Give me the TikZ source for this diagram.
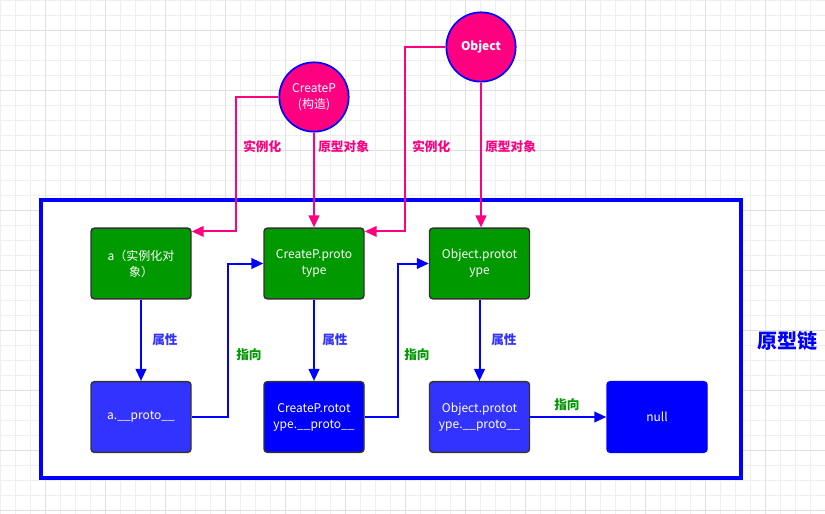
\documentclass[tikz,border=0pt]{standalone}
\usepackage{fontspec}
\setmainfont{Noto Sans CJK SC}
\usetikzlibrary{arrows.meta}
\definecolor{gridminor}{HTML}{EFEFEF}
\definecolor{gridmajor}{HTML}{E0E0E0}
\definecolor{pnk}{HTML}{FF0080}
\definecolor{bl}{HTML}{0000FF}
\definecolor{lbl}{HTML}{3333FF}
\definecolor{grn}{HTML}{009900}
\definecolor{dgrn}{HTML}{009900}
\definecolor{bord}{HTML}{333333}
\tikzset{
  boxbase/.style={rectangle, rounded corners=2.5pt, draw=bord, line width=1.1pt,
    minimum width=75pt, minimum height=53pt, text=white, align=center,
    font=\fontsize{9}{12}\selectfont, inner sep=1pt},
  greenbox/.style={boxbase, fill=grn},
  lbluebox/.style={boxbase, fill=lbl},
  dbluebox/.style={boxbase, fill=bl},
  circ/.style={circle, fill=pnk, draw=bl, line width=1.3pt, minimum size=52pt,
    text=white, align=center, font=\fontsize{9}{12}\selectfont, inner sep=0pt},
  pinkarrow/.style={draw=pnk, line width=1.5pt, -{Triangle[length=9pt,width=8pt]}},
  bluearrow/.style={draw=bl, line width=1.5pt, -{Triangle[length=9pt,width=8pt]}},
  pinklabel/.style={text=pnk, font=\bfseries\fontsize{9.5}{12}\selectfont, inner sep=0pt},
  bluelabel/.style={text=lbl, font=\bfseries\fontsize{9.5}{12}\selectfont, inner sep=0pt},
  greenlabel/.style={text=dgrn, font=\bfseries\fontsize{9.5}{12}\selectfont, inner sep=0pt},
}
\begin{document}
\begin{tikzpicture}[x=0.75pt, y=-0.75pt]
\useasboundingbox (0,0) rectangle (825,514);
\fill[white] (0,0) rectangle (825,514);
% grid
\foreach \i in {0,15,...,825} \draw[gridminor, line width=0.75pt] (\i,0) -- (\i,514);
\foreach \j in {0,15,...,514} \draw[gridminor, line width=0.75pt] (0,\j) -- (825,\j);
\foreach \i in {45,105,...,825} \draw[gridmajor, line width=0.75pt] (\i,0) -- (\i,514);
\foreach \j in {30,90,...,514} \draw[gridmajor, line width=0.75pt] (0,\j) -- (825,\j);
% big frame
\node[draw=bl, fill=white, line width=3pt, minimum width=525pt, minimum height=209pt, inner sep=0pt] (frame) at (391,339) {};
\node[text=bl, font=\bfseries\fontsize{15}{18}\selectfont] (chain) at (787,341) {原型链};
% circles
\node[circ] (cp) at (314,97) {CreateP\\(构造)};
\node[circ, font=\bfseries\fontsize{9}{12}\selectfont] (obj) at (481,47) {Object};
% boxes
\node[greenbox] (a) at (141,263.5) {a（实例化对\\象）};
\node[greenbox] (cpp) at (314,263.5) {CreateP.proto\\type};
\node[greenbox] (op) at (479.5,263.5) {Object.protot\\ype};
\node[lbluebox] (ap) at (141,417) {a.\_\_proto\_\_};
\node[dbluebox] (cpr) at (314,417) {CreateP.rotot\\ype.\_\_proto\_\_};
\node[lbluebox] (opp) at (479.5,417) {Object.protot\\ype.\_\_proto\_\_};
\node[dbluebox, draw=bl] (nul) at (657,417) {null};
% pink connectors
\draw[pinkarrow] (cp.west) -| ([xshift=33pt,yshift=-3pt]a.north east) -- ([yshift=-3pt]a.north east);
\draw[pinkarrow] (cp.south) -- (cp.south |- cpp.north);
\draw[pinkarrow] (obj.west) -| ([xshift=30pt,yshift=-3pt]cpp.north east) -- ([yshift=-3pt]cpp.north east);
\draw[pinkarrow] (obj.south) -- (obj.south |- op.north);
\node[pinklabel, anchor=west] (l1) at (243,147) {实例化};
\node[pinklabel, anchor=west] (l2) at (318,147) {原型对象};
\node[pinklabel, anchor=west] (l3) at (412,147) {实例化};
\node[pinklabel, anchor=west] (l4) at (485,147) {原型对象};
% blue connectors
\draw[bluearrow] (a.south) -- (ap.north);
\draw[bluearrow] (cpp.south) -- (cpr.north);
\draw[bluearrow] (op.south) -- (opp.north);
\draw[bluearrow] (ap.east) -- ++(36,0) |- (cpp.west);
\draw[bluearrow] (cpr.east) -- ++(33,0) |- (op.west);
\draw[bluearrow] (opp.east) -- (nul.west);
\node[bluelabel, anchor=west] (p1) at (152,340) {属性};
\node[bluelabel, anchor=west] (p2) at (322,340) {属性};
\node[bluelabel, anchor=west] (p3) at (491,340) {属性};
\node[greenlabel, anchor=west] (z1) at (236,355) {指向};
\node[greenlabel, anchor=west] (z2) at (404,355) {指向};
\node[greenlabel, anchor=west] (z3) at (554,405) {指向};
\end{tikzpicture}
\end{document}
